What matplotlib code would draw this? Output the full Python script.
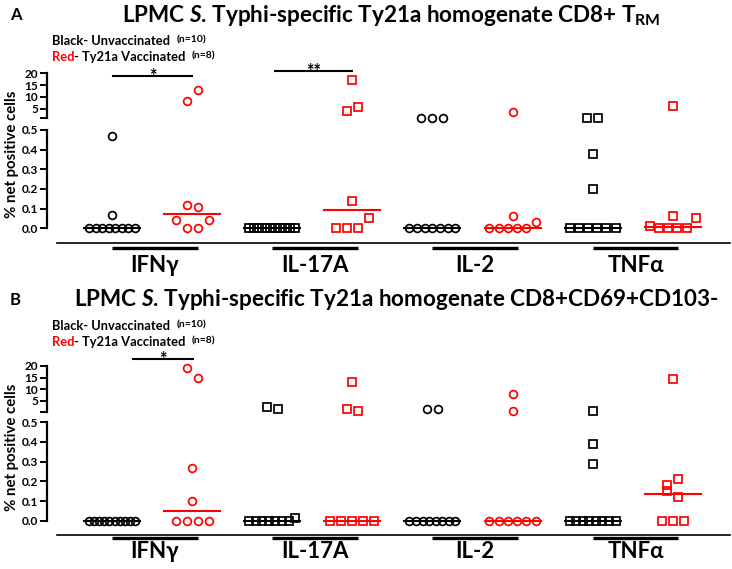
import numpy as np
import matplotlib
matplotlib.use("Agg")
import matplotlib.pyplot as plt

plt.rcParams['font.family'] = ['Lato', 'DejaVu Sans']
plt.rcParams['mathtext.fontset'] = 'custom'
plt.rcParams['mathtext.rm'] = 'Lato:bold'
plt.rcParams['mathtext.it'] = 'Lato:bold:italic'
plt.rcParams['mathtext.bf'] = 'Lato:bold'

W, H = 732, 569

cytokines = ["IFNγ", "IL-17A", "IL-2", "TNFα"]
markers = ["o", "s", "o", "s"]
title_a = r"LPMC $\mathit{S}$. Typhi-specific Ty21a homogenate CD8+ $\mathrm{T}_{\mathrm{RM}}$"
title_b = r"LPMC $\mathit{S}$. Typhi-specific Ty21a homogenate CD8+CD69+CD103-"
ylabel = "% net positive cells"
upper_ticks = [5, 10, 15, 20]
lower_ticks = [0.0, 0.1, 0.2, 0.3, 0.4, 0.5]

# % net positive cells, one list per cytokine (order = order in the swarm)
a_unvacc = [
    [0.47, 0.07, 0, 0, 0, 0, 0, 0, 0, 0],
    [0, 0, 0, 0, 0, 0, 0, 0, 0, 0],
    [1.0, 1.0, 1.0, 0, 0, 0, 0, 0, 0, 0],
    [1.0, 1.0, 0.38, 0.20, 0, 0, 0, 0, 0, 0],
]
a_vacc = [
    [8.4, 12.9, 0.12, 0.11, 0.04, 0, 0, 0.04],
    [17.2, 4.15, 5.85, 0.14, 0, 0, 0, 0.05],
    [3.5, 0.062, 0, 0, 0, 0, 0, 0.03],
    [6.3, 0.062, 0.01, 0, 0, 0, 0, 0.05],
]
b_unvacc = [
    [0, 0, 0, 0, 0, 0, 0, 0, 0, 0],
    [2.4, 1.6, 0, 0, 0, 0, 0, 0, 0, 0.012],
    [1.57, 1.57, 0, 0, 0, 0, 0, 0, 0, 0],
    [0.7, 0.39, 0.29, 0, 0, 0, 0, 0, 0, 0, 0],
]
b_vacc = [
    [19.0, 14.7, 0.27, 0.10, 0, 0, 0, 0],
    [13.3, 1.6, 0.7, 0, 0, 0, 0, 0],
    [7.9, 0.7, 0, 0, 0, 0, 0, 0],
    [14.6, 0.18, 0.15, 0.21, 0.12, 0, 0, 0],
]

fig = plt.figure(figsize=(W / 100, H / 100), dpi=100)


def px_axes(left, top, right, bottom):
    return fig.add_axes([left / W, 1 - bottom / H, (right - left) / W, (bottom - top) / H])


def swarm_x(ax, center, vals, thresh=11.2, max_span=46, max_gap=11):
    vals = np.asarray(vals, float)
    xs = np.full(len(vals), float(center))
    if len(vals) == 0:
        return xs
    dy = ax.transData.transform(np.column_stack([np.zeros(len(vals)), vals]))[:, 1]
    ppu = ax.transData.transform((1, 0))[0] - ax.transData.transform((0, 0))[0]
    rows = []
    for i in np.argsort(dy, kind="stable"):
        if rows and dy[i] - dy[rows[-1][0]] <= thresh:
            rows[-1].append(i)
        else:
            rows.append([i])
    for row in rows:
        row = sorted(row)
        m = len(row)
        if m > 1:
            gap = min(max_gap, max_span / (m - 1))
            for k, i in enumerate(row):
                xs[i] = center + (k - (m - 1) / 2) * gap / ppu
    return xs


def panel(letter, title, title_x, top_px, unvacc, vacc, sigs, geo):
    up_top, up_bot, up_min, lo_top, lo_bot, axis_y, bar_y, lab_y = geo
    up = px_axes(47, up_top, 730, up_bot)
    lo = px_axes(47, lo_top, 730, lo_bot)
    # group i sits at x = i, 80.1 px apart, first one at 112 px
    xl = ((47 - 112) / 80.1, (730 - 112) / 80.1)
    for ax in (up, lo):
        ax.set_xlim(*xl)
        ax.patch.set_alpha(0)
        for s in ("top", "right"):
            ax.spines[s].set_visible(False)
        ax.spines["left"].set_linewidth(1.6)
        ax.tick_params(axis="x", bottom=False, labelbottom=False)
        ax.tick_params(axis="y", direction="out", length=5, width=1.4, pad=1.5,
                       labelsize=8.5)
    up.spines["bottom"].set_visible(False)
    up.set_ylim(up_min, 20)
    up.set_yticks([up_min] + upper_ticks)
    up.set_yticklabels([""] + [str(t) for t in upper_ticks], fontweight="bold")
    lo.set_ylim(0, 0.5)
    lo.set_yticks(lower_ticks)
    lo.set_yticklabels(["%.1f" % t for t in lower_ticks], fontweight="bold")
    lo.spines["bottom"].set_position(("outward", (axis_y - lo_bot) * 0.72))
    lo.spines["bottom"].set_bounds((57 - 112) / 80.1, xl[1])
    lo.spines["bottom"].set_linewidth(1.2)

    ppu = 80.1
    for c in range(4):
        for j, (vals, col) in enumerate(((unvacc[c], "black"), (vacc[c], "red"))):
            g = 2 * c + j
            vals = np.asarray(vals, float)
            for ax, sel in ((up, vals > 0.5), (lo, vals <= 0.5)):
                v = vals[sel]
                xs = swarm_x(ax, g, v)
                ax.plot(xs, v, ls="none", marker=markers[c], ms=5.6, mfc="none",
                        mec=col, mew=1.25, clip_on=False, zorder=3)
            med = np.median(vals)
            lo.plot([g - 28 / ppu, g + 28 / ppu], [med, med], color=col, lw=1.5,
                    clip_on=False, zorder=2)
        # category underline and label
        yb = (lo_bot - bar_y) / (lo_bot - lo_top)
        yl = (lo_bot - lab_y) / (lo_bot - lo_top)
        lo.plot([2 * c, 2 * c + 1.07], [yb, yb], color="black", lw=2.4,
                transform=lo.get_xaxis_transform(), clip_on=False,
                solid_capstyle="butt")
        lo.text(2 * c + 0.535, yl, cytokines[c], transform=lo.get_xaxis_transform(),
                ha="center", va="center", fontsize=16, fontweight="bold")

    for x0, x1, y, stars in sigs:
        up.plot([x0, x1], [y, y], color="black", lw=1.5, clip_on=False)
        up.annotate(stars, xy=((x0 + x1) / 2, y), xytext=(0, -4.5),
                    textcoords="offset points", ha="center", va="baseline",
                    fontsize=13, fontweight="bold", annotation_clip=False)

    fig.text(10 / W, 1 - (top_px + 15) / H, letter, ha="left", va="center",
             fontsize=12, fontweight="bold")
    fig.text(title_x / W, 1 - (top_px + 15) / H, title, ha="center", va="center",
             fontsize=16.2, fontweight="bold")
    t1 = fig.text(52 / W, 1 - (top_px + 41) / H, "Black- Unvaccinated", ha="left",
                  va="center", fontsize=9.3, fontweight="bold")
    fig.add_artist(plt.Annotation("(n=10)", xy=(1, 0.62), xycoords=t1,
                                  xytext=(4.5, 0), textcoords="offset points",
                                  ha="left", va="center", fontsize=7.5,
                                  fontweight="bold"))
    t2 = fig.text(52 / W, 1 - (top_px + 57) / H, "Red", ha="left", va="center",
                  fontsize=9.3, fontweight="bold", color="red")
    t3 = fig.add_artist(plt.Annotation("- Ty21a Vaccinated", xy=(1, 0), xycoords=t2,
                                       ha="left", va="bottom", fontsize=9.3,
                                       fontweight="bold"))
    fig.add_artist(plt.Annotation("(n=8)", xy=(1, 0.62), xycoords=t3,
                                  xytext=(4.5, 0), textcoords="offset points",
                                  ha="left", va="center", fontsize=7.5,
                                  fontweight="bold"))
    yc = (lo_bot + up_top) / 2 + 4
    fig.text(12 / W, 1 - yc / H, ylabel, rotation=90, ha="center", va="center",
             fontsize=10.8, fontweight="bold")


panel("A", title_a, 391, 0, a_unvacc, a_vacc,
      [(0.01, 1.0, 18.9, "*"), (2.03, 3.0, 21.1, "**")],
      (73.3, 118.4, 0.9, 130.0, 228.3, 243, 248, 265))
panel("B", title_b, 397, 285, b_unvacc, b_vacc,
      [(0.26, 1.01, 23.0, "*")],
      (366.0, 411.7, 0.4, 422.3, 520.7, 535, 538, 551))

fig.savefig("out.png", dpi=100)
